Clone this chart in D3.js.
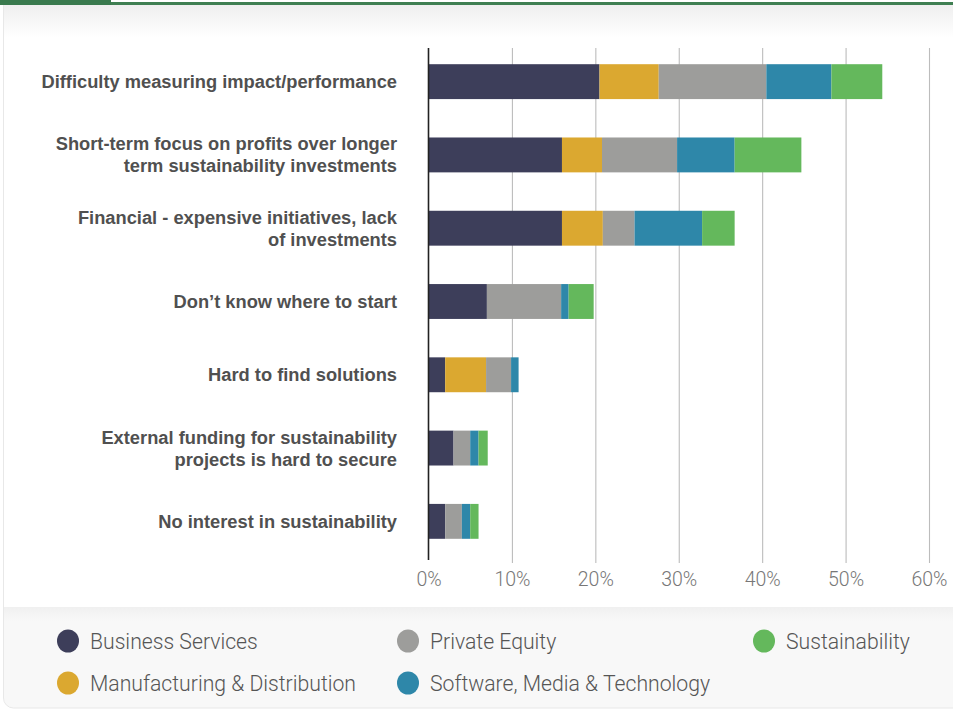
<!DOCTYPE html>
<html>
<head>
<meta charset="utf-8">
<script src="https://cdn.jsdelivr.net/npm/d3@7/dist/d3.min.js"></script>
<style>
  html, body { margin: 0; padding: 0; background: #ffffff; }
  svg { display: block; }
</style>
</head>
<body>
<svg id="chart" width="953" height="712"></svg>
<script>
// Barriers to sustainability, share of respondents by sector (stacked)
const categories = [
  ["Difficulty measuring impact/performance"],
  ["Short-term focus on profits over longer", "term sustainability investments"],
  ["Financial - expensive initiatives, lack", "of investments"],
  ["Don\u2019t know where to start"],
  ["Hard to find solutions"],
  ["External funding for sustainability", "projects is hard to secure"],
  ["No interest in sustainability"]
];
const businessServices   = [20.5, 16.0, 16.0, 7.0, 2.0, 3.0, 2.0];
const manufacturing      = [7.1, 4.8, 4.9, 0.0, 4.9, 0.0, 0.0];
const privateEquity      = [12.9, 9.0, 3.8, 8.9, 3.0, 2.0, 2.0];
const softwareMedia      = [7.8, 6.9, 8.1, 0.9, 0.9, 1.0, 1.0];
const sustainability     = [6.1, 8.0, 3.9, 3.0, 0.0, 1.1, 1.0];
const seriesNames = ["Business Services", "Manufacturing & Distribution", "Private Equity",
                     "Software, Media & Technology", "Sustainability"];
const seriesColors = ["#3d3e5a", "#dba830", "#9d9d9b", "#2e87a9", "#64b85c"];
const tickValues = [0, 10, 20, 30, 40, 50, 60];

const rows = categories.map((c, i) => ({
  key: c.join(" "),
  lines: c,
  "Business Services": businessServices[i],
  "Manufacturing & Distribution": manufacturing[i],
  "Private Equity": privateEquity[i],
  "Software, Media & Technology": softwareMedia[i],
  "Sustainability": sustainability[i]
}));

const svg = d3.select("#chart");
const W = 953, H = 712;

// ---- card frame ----
const defs = svg.append("defs");
const topShade = defs.append("linearGradient").attr("id", "topShade")
  .attr("x1", 0).attr("y1", 0).attr("x2", 0).attr("y2", 1);
topShade.append("stop").attr("offset", "0%").attr("stop-color", "#efefef");
topShade.append("stop").attr("offset", "100%").attr("stop-color", "#ffffff");
const legShade = defs.append("linearGradient").attr("id", "legShade")
  .attr("x1", 0).attr("y1", 0).attr("x2", 0).attr("y2", 1);
legShade.append("stop").attr("offset", "0%").attr("stop-color", "#f0f0f0");
legShade.append("stop").attr("offset", "100%").attr("stop-color", "#f8f8f8");
defs.append("clipPath").attr("id", "cardClip")
  .append("rect").attr("x", 4).attr("y", -20).attr("width", W + 20).attr("height", H + 20 - 4).attr("rx", 10);

svg.append("rect").attr("x", 0).attr("y", 0).attr("width", W).attr("height", H).attr("fill", "#ffffff");
const card = svg.append("g").attr("clip-path", "url(#cardClip)");
card.append("rect").attr("x", 4).attr("y", 0).attr("width", W).attr("height", H).attr("fill", "#ffffff");
card.append("rect").attr("x", 4).attr("y", 5).attr("width", W).attr("height", 32).attr("fill", "url(#topShade)");
card.append("rect").attr("x", 4).attr("y", 607).attr("width", W).attr("height", H - 607).attr("fill", "#f8f8f8");
card.append("rect").attr("x", 4).attr("y", 607).attr("width", W).attr("height", 14).attr("fill", "url(#legShade)");
svg.append("rect").attr("x", 3.5).attr("y", -20).attr("width", W + 20).attr("height", H + 20 - 4)
  .attr("rx", 10).attr("fill", "none").attr("stroke", "#e8e8e8").attr("stroke-width", 1);

// header accent
svg.append("rect").attr("x", 0).attr("y", 0).attr("width", 111).attr("height", 5).attr("fill", "#3a7a4e");
svg.append("rect").attr("x", 111).attr("y", 2).attr("width", W - 111).attr("height", 3).attr("fill", "#3f7f52");

// ---- scales ----
const x = d3.scaleLinear().domain([0, 60]).range([428.5, 929]);
const y = d3.scaleBand().domain(rows.map(d => d.key)).range([45, 558])
  .paddingInner(0.524).paddingOuter(0.262);

const gridTop = 48, gridBottom = 563;

// gridlines
const grid = svg.append("g").attr("transform", `translate(0,${gridBottom})`)
  .call(d3.axisBottom(x).tickValues(tickValues.slice(1)).tickSize(-(gridBottom - gridTop)).tickFormat(""));
grid.select(".domain").remove();
grid.selectAll(".tick line").attr("stroke", "#bcbcbc").attr("stroke-width", 1.1);

// stacked bars
const stack = d3.stack().keys(seriesNames);
const layers = stack(rows);
svg.append("g").selectAll("g").data(layers).join("g")
  .attr("fill", (d, i) => seriesColors[i])
  .selectAll("rect").data(d => d).join("rect")
  .attr("x", d => x(d[0]))
  .attr("y", d => y(d.data.key))
  .attr("width", d => Math.max(0, x(d[1]) - x(d[0])))
  .attr("height", y.bandwidth());

// baseline axis
svg.append("line").attr("x1", x(0)).attr("x2", x(0)).attr("y1", gridTop).attr("y2", 560)
  .attr("stroke", "#222").attr("stroke-width", 1.6);

// x tick labels
const xAxis = svg.append("g").attr("transform", `translate(0,${gridBottom})`)
  .call(d3.axisBottom(x).tickValues(tickValues).tickSize(0).tickPadding(9).tickFormat(d => d + "%"));
xAxis.select(".domain").remove();
xAxis.selectAll("text").attr("font-family", "Roboto, 'Liberation Sans', sans-serif")
  .attr("font-weight", 300).attr("font-size", 19.5).attr("fill", "#777");

// category labels
const lineH = 22;
const labels = svg.append("g");
rows.forEach(r => {
  const cy = y(r.key) + y.bandwidth() / 2;
  const n = r.lines.length;
  const t = labels.append("text")
    .attr("x", 397).attr("text-anchor", "end")
    .attr("font-family", "'Liberation Sans', Arial, sans-serif")
    .attr("font-weight", "bold").attr("font-size", 18.3).attr("fill", "#505050");
  r.lines.forEach((ln, k) => {
    t.append("tspan").attr("x", 397)
      .attr("y", cy + (k - (n - 1) / 2) * lineH + 6.5)
      .text(ln);
  });
});

// legend
const legendItems = [
  { name: "Business Services", color: seriesColors[0], cx: 68, cy: 641 },
  { name: "Private Equity", color: seriesColors[2], cx: 408, cy: 641 },
  { name: "Sustainability", color: seriesColors[4], cx: 764, cy: 641 },
  { name: "Manufacturing & Distribution", color: seriesColors[1], cx: 68, cy: 683 },
  { name: "Software, Media & Technology", color: seriesColors[3], cx: 408, cy: 683 }
];
const lg = svg.append("g").selectAll("g").data(legendItems).join("g");
lg.append("ellipse").attr("cx", d => d.cx).attr("cy", d => d.cy).attr("rx", 11).attr("ry", 11.5)
  .attr("fill", d => d.color);
lg.append("text").attr("x", d => d.cx + 22).attr("y", d => d.cy + 7.5)
  .attr("font-family", "Roboto, 'Liberation Sans', sans-serif").attr("font-weight", 300)
  .attr("font-size", 21.2).attr("fill", "#555").text(d => d.name);
</script>
</body>
</html>
